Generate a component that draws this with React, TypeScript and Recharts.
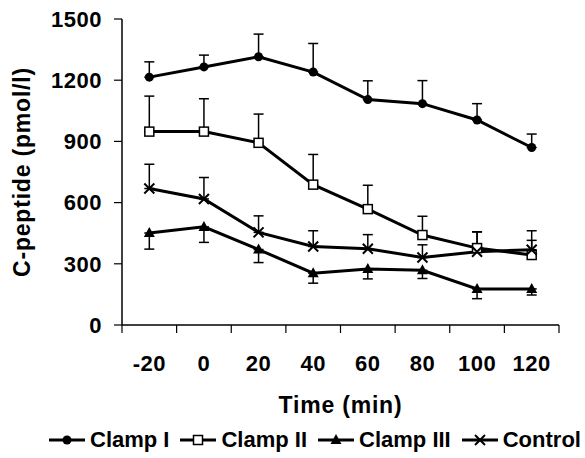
import { ErrorBar, Label, Legend, Line, LineChart, XAxis, YAxis } from "recharts";

const times = [-20, 0, 20, 40, 60, 80, 100, 120];
const clampI = [1215, 1265, 1315, 1240, 1105, 1085, 1005, 870];
const clampIErr = [75, 58, 111, 140, 92, 113, 80, 66];
const clampII = [948, 948, 893, 688, 568, 441, 377, 343];
const clampIIErr = [174, 161, 141, 148, 117, 92, 80, 72];
const clampIII = [451, 481, 370, 254, 275, 268, 177, 177];
const clampIIIErr = [79, 76, 64, 49, 49, 40, 48, 30];
const control = [669, 618, 454, 385, 374, 331, 359, 369];
const controlErr = [119, 105, 81, 77, 69, 62, 97, 93];

const yTicks = [0, 300, 600, 900, 1200, 1500];
// tick marks sit between the time points
const xBoundaries = [-30, -10, 10, 30, 50, 70, 90, 110, 130];

const FONT = "'Liberation Sans', Arial, sans-serif";
const W = 585;
const H = 458;
const PLOT_LEFT = 122;
const RIGHT = 26;
const HALF_BAND = (W - PLOT_LEFT - RIGHT) / 16;

const data = times.map((t, i) => ({
  t,
  c1: clampI[i],
  c1e: [0, clampIErr[i]],
  c2: clampII[i],
  c2e: [0, clampIIErr[i]],
  c3: clampIII[i],
  c3e: [clampIIIErr[i], 0],
  ctl: control[i],
  ctle: [0, controlErr[i]],
}));

type Shape = "circle" | "square" | "triangle" | "cross";

function Marker({ cx, cy, shape }: { cx: number; cy: number; shape: Shape }) {
  if (cx == null || cy == null) return null;
  if (shape === "circle") return <circle cx={cx} cy={cy} r={4.5} fill="#000" />;
  if (shape === "square")
    return (
      <rect x={cx - 4.5} y={cy - 4.5} width={9} height={9} fill="#fff" stroke="#000" strokeWidth={1.5} />
    );
  if (shape === "triangle")
    return <path d={`M${cx},${cy - 6} L${cx + 5.5},${cy + 4} L${cx - 5.5},${cy + 4} Z`} fill="#000" />;
  return (
    <path
      d={`M${cx - 5},${cy - 5} L${cx + 5},${cy + 5} M${cx - 5},${cy + 5} L${cx + 5},${cy - 5}`}
      stroke="#000"
      strokeWidth={2}
    />
  );
}

const series: { key: string; err: string; name: string; shape: Shape }[] = [
  { key: "c1", err: "c1e", name: "Clamp I", shape: "circle" },
  { key: "c2", err: "c2e", name: "Clamp II", shape: "square" },
  { key: "c3", err: "c3e", name: "Clamp III", shape: "triangle" },
  { key: "ctl", err: "ctle", name: "Control", shape: "cross" },
];

function XTick(props: any) {
  const { x, y, payload } = props;
  if (payload.value >= 130) return <g />;
  return (
    <text
      x={x + HALF_BAND}
      y={y}
      dy="0.71em"
      textAnchor="middle"
      fill="#000"
      fontSize={22}
      fontWeight="bold"
      fontFamily={FONT}
      letterSpacing={0.5}
    >
      {payload.value + 10}
    </text>
  );
}

function LegendContent() {
  return (
    <div
      style={{
        display: "flex",
        alignItems: "center",
        height: 30,
        fontFamily: FONT,
        fontWeight: "bold",
        fontSize: 22,
        color: "#000",
        whiteSpace: "nowrap",
      }}
    >
      {series.map((s, i) => (
        <div
          key={s.key}
          style={{ display: "flex", alignItems: "center", marginRight: i < series.length - 1 ? 10 : 0 }}
        >
          <svg width={38} height={16} style={{ marginRight: 4 }}>
            <line x1={1} y1={8} x2={37} y2={8} stroke="#000" strokeWidth={3} />
            <Marker cx={19} cy={8} shape={s.shape} />
          </svg>
          <span>{s.name}</span>
        </div>
      ))}
    </div>
  );
}

export default function App() {
  return (
    <div style={{ width: W, height: H, background: "#fff" }}>
      <style>{"body{margin:0}"}</style>
      <LineChart width={W} height={H} data={data} margin={{ top: 19, right: RIGHT, left: 0, bottom: 0 }}>
        <XAxis
          dataKey="t"
          type="number"
          domain={[-30, 130]}
          ticks={xBoundaries}
          height={103}
          tickSize={8}
          tickMargin={22}
          tick={<XTick />}
          axisLine={{ stroke: "#000", strokeWidth: 1.5 }}
          tickLine={{ stroke: "#000", strokeWidth: 1.2 }}
          interval={0}
        >
          <Label
            content={({ viewBox }: any) => (
              <text
                x={viewBox.x + viewBox.width / 2}
                y={viewBox.y + 80}
                textAnchor="middle"
                dominantBaseline="central"
                fill="#000"
                fontSize={23}
                fontWeight="bold"
                fontFamily={FONT}
                letterSpacing={0.8}
              >
                Time (min)
              </text>
            )}
          />
        </XAxis>
        <YAxis
          width={PLOT_LEFT}
          domain={[0, 1500]}
          ticks={yTicks}
          interval={0}
          tickSize={8}
          tickMargin={12}
          tick={{ fill: "#000", fontSize: 22, fontWeight: "bold", fontFamily: FONT, letterSpacing: 0.5 }}
          axisLine={{ stroke: "#000", strokeWidth: 1.5 }}
          tickLine={{ stroke: "#000", strokeWidth: 1.2 }}
        >
          <Label
            content={({ viewBox }: any) => {
              const cx = 22;
              const cy = viewBox.y + viewBox.height / 2;
              return (
                <text
                  x={cx}
                  y={cy}
                  transform={`rotate(-90 ${cx} ${cy})`}
                  textAnchor="middle"
                  dominantBaseline="central"
                  fill="#000"
                  fontSize={23}
                  fontWeight="bold"
                  fontFamily={FONT}
                  letterSpacing={0.8}
                >
                  C-peptide (pmol/l)
                </text>
              );
            }}
          />
        </YAxis>
        <Legend
          verticalAlign="bottom"
          content={<LegendContent />}
          wrapperStyle={{ left: 48, bottom: 3, width: 537, height: 30 }}
        />
        {series.map((s) => (
          <Line
            key={s.key}
            dataKey={s.key}
            name={s.name}
            type="linear"
            stroke="#000"
            strokeWidth={3}
            isAnimationActive={false}
            dot={(p: any) => <Marker key={`${s.key}-${p.index}`} cx={p.cx} cy={p.cy} shape={s.shape} />}
            activeDot={false}
          >
            <ErrorBar dataKey={s.err} direction="y" width={5} stroke="#000" strokeWidth={1.5} />
          </Line>
        ))}
      </LineChart>
    </div>
  );
}
